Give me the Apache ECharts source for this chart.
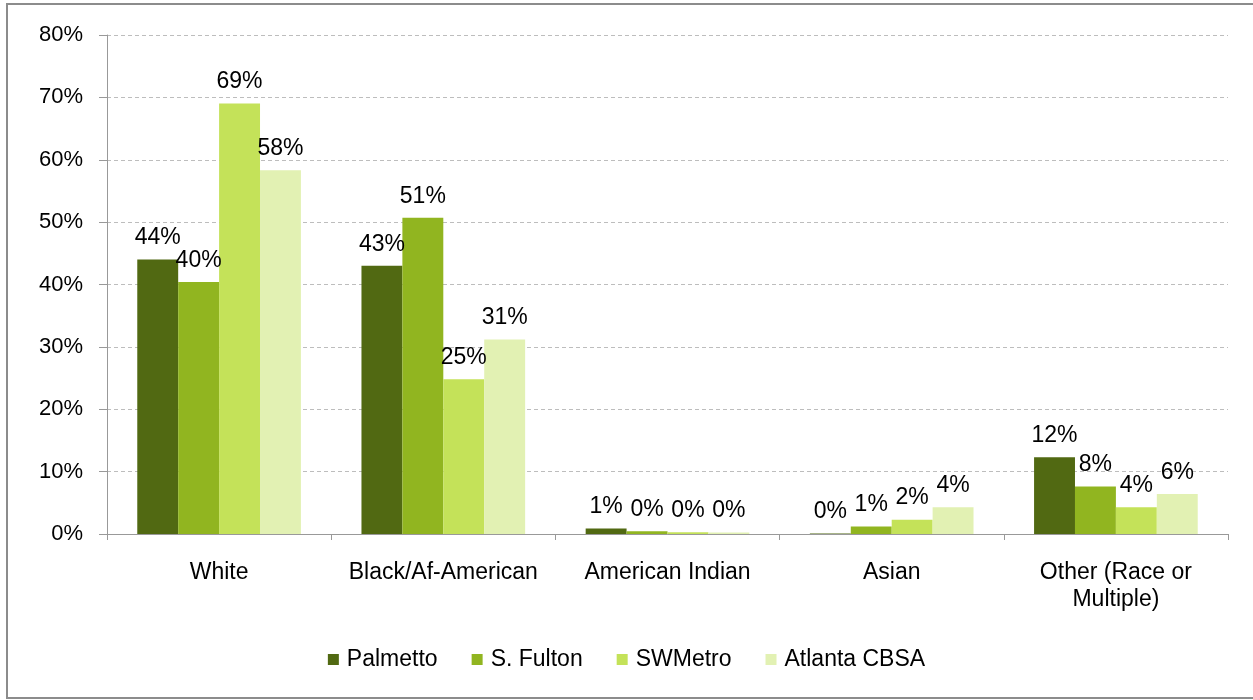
<!DOCTYPE html>
<html>
<head>
<meta charset="utf-8">
<script src="https://cdn.jsdelivr.net/npm/echarts@6/dist/echarts.min.js"></script>
<style>
  html, body { margin: 0; padding: 0; background: #fff; }
  #chart { width: 1253px; height: 700px; }
</style>
</head>
<body>
<div id="chart"></div>
<script>
// data (percent)
var categories = ['White', 'Black/Af-American', 'American Indian', 'Asian', 'Other (Race or\nMultiple)'];
var palmetto = [44, 43, 0.9, 0.1, 12.3];
var sFulton = [40.4, 50.7, 0.45, 1.2, 7.6];
var swMetro = [69, 24.8, 0.3, 2.3, 4.3];
var atlantaCBSA = [58.3, 31.2, 0.25, 4.3, 6.4];
var yTicks = [0, 10, 20, 30, 40, 50, 60, 70, 80];

var myChart = echarts.init(document.getElementById('chart'));

var FONT = 'Liberation Sans, Arial, sans-serif';

function makeSeries(name, data, color) {
    return {
        name: name,
        type: 'bar',
        data: data,
        barGap: '0%',
        barCategoryGap: '27%',
        itemStyle: { color: color },
        label: {
            show: true,
            position: 'top',
            distance: 10,
            color: '#000',
            fontFamily: FONT,
            fontSize: 23,
            formatter: function (p) { return Math.round(p.value) + '%'; }
        }
    };
}

var option = {
    animation: false,
    textStyle: { fontFamily: FONT },
    graphic: [{
        type: 'rect',
        shape: { x: 7, y: 4, width: 1252, height: 694 },
        style: { fill: 'none', stroke: '#8c8c8c', lineWidth: 2 },
        silent: true
    }],
    grid: { left: 107, right: 25, top: 35, bottom: 166 },
    legend: {
        bottom: 24,
        left: 'center',
        itemWidth: 11,
        itemHeight: 11,
        itemGap: 34,
        icon: 'rect',
        textStyle: { fontSize: 23, color: '#000', padding: [0, 0, 0, 3] },
        data: ['Palmetto', 'S. Fulton', 'SWMetro', 'Atlanta CBSA']
    },
    xAxis: {
        type: 'category',
        data: categories,
        axisLine: { lineStyle: { color: '#999' } },
        axisTick: { show: true, length: 6, lineStyle: { color: '#999' } },
        axisLabel: { color: '#000', fontSize: 23, margin: 25, lineHeight: 27, interval: 0 }
    },
    yAxis: {
        type: 'value',
        min: 0,
        max: 80,
        interval: 10,
        axisLine: { show: true, lineStyle: { color: '#999' } },
        axisTick: { show: true, length: 8, lineStyle: { color: '#999' } },
        axisLabel: {
            color: '#000',
            fontSize: 22,
            margin: 24,
            formatter: function (v) { return yTicks.indexOf(v) >= 0 ? v + '%' : ''; }
        },
        splitLine: { lineStyle: { color: '#bdbdbd', type: [4, 3] } }
    },
    series: [
        makeSeries('Palmetto', palmetto, '#516912'),
        makeSeries('S. Fulton', sFulton, '#91b520'),
        makeSeries('SWMetro', swMetro, '#c4e259'),
        makeSeries('Atlanta CBSA', atlantaCBSA, '#e2f1b3')
    ]
};

myChart.setOption(option);
</script>
</body>
</html>
